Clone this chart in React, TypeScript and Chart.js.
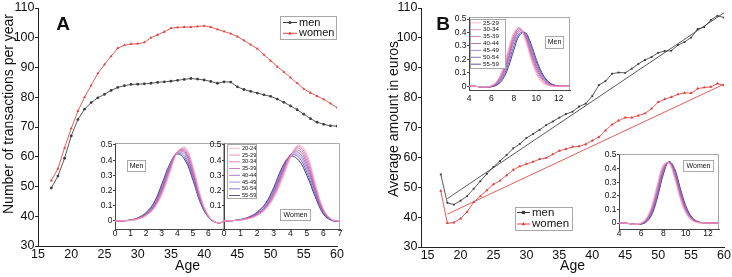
import React, { useEffect, useRef } from "react";
import { Chart, registerables } from "chart.js";
Chart.register(...registerables);

// ---------- main data ----------
const ages = [17, 18, 19, 20, 21, 22, 23, 24, 25, 26, 27, 28, 29, 30, 31, 32, 33, 34, 35, 36, 37, 38, 39, 40, 41, 42, 43, 44, 45, 46, 47, 48, 49, 50, 51, 52, 53, 54, 55, 56, 57, 58, 59, 60];
const menTransactions = [49.5, 53.5, 59.5, 67, 72.5, 76, 78.2, 79.8, 81, 82.3, 83.3, 83.9, 84.3, 84.4, 84.5, 84.7, 85, 85.2, 85.4, 85.7, 86, 86.3, 86.1, 85.8, 85.3, 84.7, 85.2, 85.1, 83.5, 82.6, 82, 81.4, 80.8, 80.3, 79.4, 78.3, 77.1, 75.8, 74.3, 72.8, 71.6, 70.9, 70.4, 70.3];
const womenTransactions = [52, 56, 63, 69.5, 75.3, 80, 84, 88, 91, 93.8, 96.5, 97.5, 97.9, 98, 98.4, 100, 101, 102, 103.2, 103.5, 103.6, 103.6, 103.8, 104, 103.6, 102.8, 102.1, 101.4, 100.4, 99.1, 97.7, 96.3, 94.3, 92.3, 90.3, 88.5, 86.6, 84.7, 82.8, 81.5, 80.4, 79.3, 77.9, 76.5];
const menAmount = [54.3, 44.8, 44.2, 45.5, 47, 49.5, 52, 54.5, 56.8, 58.8, 60.8, 63, 64.5, 66.5, 67.8, 69.2, 70.8, 72, 73.3, 74.5, 75.3, 77, 78, 80.5, 84.2, 85.5, 88, 88.4, 88.3, 89.7, 91.3, 92.6, 93.6, 95, 95.6, 95.7, 97.6, 98.6, 100.1, 103, 103.6, 106, 107.4, 106.8];
const womenAmount = [48.8, 38, 38.2, 39.5, 41.8, 45, 47, 49, 51, 52.2, 54, 55.8, 57, 57.8, 58.5, 59.4, 59.8, 61, 62.2, 62.8, 63.5, 63.7, 64.4, 65.6, 66.8, 69, 71, 72.3, 73.3, 73.3, 74, 74.7, 76.3, 78.5, 79.5, 80.2, 81.1, 81.6, 81.5, 83, 83.4, 83.6, 84.7, 84.1];
const fitAges = [18, 60];
const menAmountFit = [46.2, 108.4];
const womenAmountFit = [41, 84.5];

const mainYTicks = [30, 40, 50, 60, 70, 80, 90, 100, 110];
const mainXTicks = [15, 20, 25, 30, 35, 40, 45, 50, 55, 60];

// ---------- inset data ----------
const groupsA = ["20-24", "25-29", "30-34", "35-39", "40-44", "45-49", "50-54", "55-59"];
const groupsB = ["25-29", "30-34", "35-39", "40-44", "45-49", "50-54", "55-59"];
const insetAX = [0, 0.5, 1, 1.5, 2, 2.5, 3, 3.5, 4, 4.5, 5, 5.5, 6, 6.5, 7];
const insetAXTicks = [0, 1, 2, 3, 4, 5, 6, 7];
const insetAYTicks = [0, 0.1, 0.2, 0.3, 0.4, 0.5];
const aMenDensity = [
  [0, 0.001, 0.004, 0.013, 0.035, 0.08, 0.17, 0.31, 0.45, 0.485, 0.36, 0.16, 0.035, -0.01, -0.008],
  [0, 0.001, 0.004, 0.014, 0.037, 0.085, 0.18, 0.32, 0.45, 0.475, 0.35, 0.155, 0.033, -0.01, -0.008],
  [0, 0.001, 0.005, 0.015, 0.04, 0.09, 0.19, 0.33, 0.455, 0.465, 0.335, 0.15, 0.032, -0.01, -0.008],
  [0, 0.001, 0.005, 0.016, 0.042, 0.095, 0.2, 0.34, 0.455, 0.455, 0.32, 0.14, 0.03, -0.01, -0.008],
  [0, 0.001, 0.005, 0.017, 0.045, 0.1, 0.21, 0.35, 0.455, 0.445, 0.305, 0.135, 0.03, -0.01, -0.008],
  [0, 0.001, 0.006, 0.018, 0.048, 0.105, 0.22, 0.36, 0.45, 0.43, 0.29, 0.125, 0.028, -0.01, -0.008],
  [0, 0.001, 0.006, 0.02, 0.052, 0.115, 0.23, 0.365, 0.445, 0.415, 0.28, 0.12, 0.027, -0.01, -0.008],
  [0, 0.001, 0.007, 0.022, 0.056, 0.12, 0.24, 0.37, 0.44, 0.4, 0.27, 0.115, 0.025, -0.01, -0.008],
];
const aWomenDensity = [
  [0, 0.002, 0.006, 0.015, 0.035, 0.075, 0.15, 0.27, 0.41, 0.5, 0.44, 0.25, 0.08, 0.01, 0],
  [0, 0.002, 0.006, 0.016, 0.038, 0.08, 0.16, 0.285, 0.42, 0.49, 0.42, 0.235, 0.075, 0.01, 0],
  [0, 0.002, 0.007, 0.018, 0.04, 0.085, 0.17, 0.3, 0.43, 0.48, 0.4, 0.22, 0.07, 0.008, 0],
  [0, 0.002, 0.007, 0.019, 0.043, 0.09, 0.18, 0.31, 0.435, 0.465, 0.38, 0.21, 0.065, 0.008, 0],
  [0, 0.002, 0.008, 0.02, 0.046, 0.095, 0.19, 0.32, 0.435, 0.45, 0.36, 0.2, 0.06, 0.006, 0],
  [0, 0.002, 0.008, 0.022, 0.05, 0.1, 0.2, 0.33, 0.43, 0.435, 0.34, 0.19, 0.055, 0.005, 0],
  [0, 0.002, 0.009, 0.024, 0.054, 0.11, 0.21, 0.34, 0.43, 0.42, 0.32, 0.175, 0.05, 0.004, 0],
  [0, 0.002, 0.01, 0.026, 0.058, 0.115, 0.22, 0.35, 0.425, 0.4, 0.3, 0.16, 0.045, 0.003, 0],
];
const insetBX = [4, 4.5, 5, 5.5, 6, 6.5, 7, 7.5, 8, 8.5, 9, 9.5, 10, 10.5, 11, 11.5, 12, 12.5, 13];
const insetBXTicks = [4, 6, 8, 10, 12];
const insetBYTicks = [0, 0.1, 0.2, 0.3, 0.4, 0.5];
const bMenDensity = [
  [0, 0, -0.004, -0.006, 0.005, 0.04, 0.13, 0.27, 0.4, 0.435, 0.35, 0.21, 0.095, 0.03, 0.007, 0, 0, 0, 0],
  [0, 0, -0.004, -0.006, 0.003, 0.034, 0.117, 0.25, 0.385, 0.435, 0.36, 0.228, 0.112, 0.042, 0.012, 0.002, 0, 0, 0],
  [0, 0, -0.004, -0.006, 0.001, 0.028, 0.103, 0.23, 0.37, 0.43, 0.37, 0.245, 0.128, 0.054, 0.017, 0.004, 0, 0, 0],
  [0, 0, -0.005, -0.007, 0, 0.023, 0.09, 0.21, 0.35, 0.42, 0.38, 0.262, 0.145, 0.065, 0.023, 0.006, 0.001, 0, 0],
  [0, 0, -0.005, -0.007, -0.001, 0.018, 0.077, 0.19, 0.33, 0.41, 0.388, 0.28, 0.162, 0.077, 0.029, 0.008, 0.001, 0, 0],
  [0, 0, -0.005, -0.008, -0.003, 0.014, 0.063, 0.165, 0.3, 0.395, 0.395, 0.3, 0.18, 0.088, 0.034, 0.01, 0.002, 0, 0],
  [0, 0, -0.005, -0.008, -0.004, 0.01, 0.05, 0.14, 0.27, 0.38, 0.4, 0.32, 0.2, 0.1, 0.04, 0.012, 0.002, 0, 0],
];
const bWomenDensity = [
  [0, 0, -0.006, -0.01, 0, 0.04, 0.14, 0.3, 0.43, 0.44, 0.33, 0.18, 0.075, 0.022, 0.004, 0, 0, 0, 0],
  [0, 0, -0.006, -0.01, -0.001, 0.035, 0.128, 0.283, 0.42, 0.443, 0.342, 0.193, 0.084, 0.027, 0.006, 0.001, 0, 0, 0],
  [0, 0, -0.006, -0.01, -0.003, 0.03, 0.116, 0.267, 0.408, 0.445, 0.353, 0.207, 0.093, 0.032, 0.008, 0.001, 0, 0, 0],
  [0, 0, -0.005, -0.01, -0.004, 0.025, 0.105, 0.25, 0.396, 0.447, 0.365, 0.22, 0.102, 0.037, 0.009, 0.002, 0, 0, 0],
  [0, 0, -0.005, -0.01, -0.005, 0.02, 0.093, 0.233, 0.384, 0.448, 0.376, 0.233, 0.111, 0.041, 0.011, 0.002, 0, 0, 0],
  [0, 0, -0.005, -0.01, -0.007, 0.015, 0.081, 0.217, 0.372, 0.449, 0.388, 0.246, 0.12, 0.045, 0.012, 0.003, 0, 0, 0],
  [0, 0, -0.005, -0.01, -0.008, 0.01, 0.07, 0.2, 0.36, 0.45, 0.4, 0.26, 0.13, 0.05, 0.014, 0.003, 0, 0, 0],
];

// ---------- styles ----------
const FONT = "'Liberation Sans', Arial, Helvetica, sans-serif";
const MEN = "#3c3c3c";
const WOMEN = "#e0403c";
const AXIS = "#222222";
const FRAME = "#a8a8a8";
const paletteA = ["#f5a3c7", "#e37aa6", "#cf6aa8", "#b45aa8", "#9a58c0", "#8a7ad8", "#6a5ab8", "#2e2366"];
const paletteB = ["#f5a3c7", "#e37aa6", "#c962a8", "#a552aa", "#8a6ad0", "#6a4fb0", "#3a2a70"];

type Marker = "circle" | "triangle" | "rect" | null;
type TextItem = { text: string; x: number; y: number; font: string; align?: CanvasTextAlign; rotate?: number; color?: string };
type BoxItem = { x: number; y: number; w: number; h: number };
type LegendSpec = {
  rows: { label: string; color: string; marker: Marker }[];
  box: BoxItem;
  x0: number; x1: number; textX: number; y: number; dy: number; font: string; r: number; lw: number;
};
type Decor = { texts?: TextItem[]; boxes?: BoxItem[]; legend?: LegendSpec };

function drawMarker(ctx: CanvasRenderingContext2D, m: Marker, x: number, y: number, r: number, color: string) {
  if (!m) return;
  ctx.fillStyle = color;
  ctx.beginPath();
  if (m === "circle") ctx.arc(x, y, r, 0, Math.PI * 2);
  else if (m === "rect") ctx.rect(x - r, y - r, 2 * r, 2 * r);
  else { ctx.moveTo(x, y - r * 1.2); ctx.lineTo(x + r * 1.1, y + r * 0.8); ctx.lineTo(x - r * 1.1, y + r * 0.8); ctx.closePath(); }
  ctx.fill();
}

function decorPlugin(ox: number, oy: number, d: Decor) {
  return {
    id: "decor",
    beforeDatasetsDraw(chart: any) {
      const a = chart.chartArea;
      const ctx = chart.ctx as CanvasRenderingContext2D;
      if (!(d as any).frame) return;
      ctx.save();
      ctx.strokeStyle = FRAME;
      ctx.lineWidth = 1;
      ctx.beginPath();
      ctx.moveTo(Math.round(a.left) + 0.5, Math.round(a.top) + 0.5);
      ctx.lineTo(Math.round(a.right) - 0.5, Math.round(a.top) + 0.5);
      ctx.lineTo(Math.round(a.right) - 0.5, Math.round(a.bottom));
      ctx.stroke();
      ctx.restore();
    },
    afterDraw(chart: any) {
      const ctx = chart.ctx as CanvasRenderingContext2D;
      ctx.save();
      ctx.translate(-ox, -oy);
      const strokeBox = (b: BoxItem) => {
        ctx.fillStyle = "#ffffff";
        ctx.fillRect(b.x, b.y, b.w, b.h);
        ctx.strokeStyle = FRAME;
        ctx.lineWidth = 1;
        ctx.strokeRect(Math.round(b.x) + 0.5, Math.round(b.y) + 0.5, Math.round(b.w), Math.round(b.h));
      };
      (d.boxes || []).forEach(strokeBox);
      if (d.legend) {
        const L = d.legend;
        strokeBox(L.box);
        L.rows.forEach((row, i) => {
          const y = L.y + i * L.dy;
          ctx.strokeStyle = row.color;
          ctx.lineWidth = L.lw;
          ctx.beginPath();
          ctx.moveTo(L.x0, y);
          ctx.lineTo(L.x1, y);
          ctx.stroke();
          drawMarker(ctx, row.marker, (L.x0 + L.x1) / 2, y, L.r, row.color);
          ctx.fillStyle = "#111";
          ctx.font = L.font;
          ctx.textAlign = "left";
          ctx.textBaseline = "middle";
          ctx.fillText(row.label, L.textX, y);
        });
      }
      (d.texts || []).forEach((t) => {
        ctx.save();
        ctx.translate(t.x, t.y);
        if (t.rotate) ctx.rotate(t.rotate);
        ctx.font = t.font;
        ctx.fillStyle = t.color || "#111";
        ctx.textAlign = t.align || "center";
        ctx.textBaseline = "middle";
        ctx.fillText(t.text, 0, 0);
        ctx.restore();
      });
      ctx.restore();
    },
  };
}

type Geo = { left: number; top: number; width: number; height: number; yW: number; xH: number; padT: number; padR: number };

function ticksFrom(values: number[]) {
  return (s: any) => { s.ticks = values.map((v) => ({ value: v })); };
}

function mainConfig(geo: Geo, datasets: any[], xMin: number, decor: Decor) {
  return {
    type: "line",
    data: { datasets },
    options: {
      responsive: false,
      animation: false,
      layout: { padding: { top: geo.padT, right: geo.padR, left: 0, bottom: 0 } },
      plugins: { legend: { display: false }, tooltip: { enabled: false } },
      scales: {
        x: {
          type: "linear", min: xMin, max: 60,
          afterBuildTicks: ticksFrom(mainXTicks),
          afterFit: (s: any) => { s.height = geo.xH; },
          grid: { drawOnChartArea: false, drawTicks: false },
          border: { color: AXIS, width: 1 },
          ticks: { autoSkip: false, maxRotation: 0, padding: 1, color: "#111", font: { family: FONT, size: 12.5 }, callback: (v: any) => String(v) },
          title: { display: true, text: "Age", color: "#111", font: { family: FONT, size: 14 }, padding: { top: 0, bottom: 2.6 } },
        },
        y: {
          type: "linear", min: 30, max: 110,
          afterBuildTicks: ticksFrom(mainYTicks),
          afterFit: (s: any) => { s.width = geo.yW; },
          grid: { drawOnChartArea: false, drawTicks: true, tickLength: 3, color: AXIS },
          border: { color: AXIS, width: 1 },
          ticks: { autoSkip: false, padding: 0.5, color: "#111", font: { family: FONT, size: 12.5 }, callback: (v: any) => String(v) },
        },
      },
    },
    plugins: [decorPlugin(geo.left, geo.top, decor)],
  };
}

function insetConfig(geo: Geo, xs: number[], curves: number[][], colors: string[], xr: [number, number], xTicks: number[], yr: [number, number], yTicks: number[], xPad: number, decor: Decor) {
  return {
    type: "line",
    data: {
      datasets: curves.map((c, i) => ({
        data: xs.map((x, j) => ({ x, y: c[j] })),
        borderColor: colors[i],
        borderWidth: 0.9,
        pointRadius: 0,
        tension: 0.4,
        fill: false,
      })),
    },
    options: {
      responsive: false,
      animation: false,
      layout: { padding: { top: geo.padT, right: geo.padR, left: 0, bottom: 0 } },
      plugins: { legend: { display: false }, tooltip: { enabled: false } },
      scales: {
        x: {
          type: "linear", min: xr[0], max: xr[1],
          afterBuildTicks: ticksFrom(xTicks),
          afterFit: (s: any) => { s.height = geo.xH; },
          grid: { drawOnChartArea: false, drawTicks: false },
          border: { color: "#444", width: 1 },
          ticks: { autoSkip: false, maxRotation: 0, padding: xPad, color: "#111", font: { family: FONT, size: 8.5 }, callback: (v: any) => String(v) },
        },
        y: {
          type: "linear", min: yr[0], max: yr[1],
          afterBuildTicks: ticksFrom(yTicks),
          afterFit: (s: any) => { s.width = geo.yW; },
          grid: { drawOnChartArea: false, drawTicks: true, tickLength: 2, color: "#444" },
          border: { color: "#444", width: 1 },
          ticks: { autoSkip: false, padding: 0.5, color: "#111", font: { family: FONT, size: 8.5 }, callback: (v: any) => String(v) },
        },
      },
    },
    plugins: [decorPlugin(geo.left, geo.top, { ...decor, frame: true } as any)],
  };
}

function ChartBox({ geo, make }: { geo: Geo; make: () => any }) {
  const ref = useRef<HTMLCanvasElement>(null);
  useEffect(() => {
    const chart = new Chart(ref.current as HTMLCanvasElement, make());
    return () => chart.destroy();
  }, []);
  return (
    <canvas
      ref={ref}
      width={geo.width}
      height={geo.height}
      style={{ position: "absolute", left: geo.left, top: geo.top, width: geo.width, height: geo.height }}
    />
  );
}

const pts = (xs: number[], ys: number[]) => xs.map((x, i) => ({ x, y: ys[i] }));

// ---------- geometry ----------
const geoA: Geo = { left: 0, top: 0, width: 345, height: 277, yW: 38, xH: 31, padT: 7, padR: 7 };
const geoB: Geo = { left: 360, top: 0, width: 372, height: 277, yW: 61, xH: 30, padT: 7, padR: 8 };
const geoAL: Geo = { left: 93, top: 137, width: 133, height: 103, yW: 22, xH: 11, padT: 6, padR: 2 };
const geoAR: Geo = { left: 202, top: 137, width: 144, height: 103, yW: 22, xH: 11, padT: 6, padR: 6 };
const geoBM: Geo = { left: 447, top: 10, width: 128, height: 95, yW: 22, xH: 15, padT: 7, padR: 5 };
const geoBW: Geo = { left: 597, top: 147, width: 127, height: 95, yW: 22, xH: 13, padT: 7, padR: 5 };

export default function App() {
  const ds = (label: string, xs: number[], ys: number[], color: string, marker: string, r: number) => ({
    label, data: pts(xs, ys), borderColor: color, backgroundColor: color, borderWidth: 0.85,
    pointStyle: marker, pointRadius: r, pointBorderWidth: 0, tension: 0,
  });
  const fit = (label: string, ys: number[], color: string) => ({
    label, data: pts(fitAges, ys), borderColor: color, borderWidth: 0.85, pointRadius: 0, tension: 0,
  });

  return (
    <div style={{ position: "absolute", left: 0, top: 0, width: 732, height: 277, background: "#fff", overflow: "hidden" }}>
      <ChartBox
        geo={geoA}
        make={() =>
          mainConfig(geoA, [ds("men", ages, menTransactions, MEN, "circle", 1.4), ds("women", ages, womenTransactions, WOMEN, "triangle", 1.7)], 15, {
            texts: [
              { text: "Number of transactions per year", x: 9, y: 114, font: `14px ${FONT}`, rotate: -Math.PI / 2 },
              { text: "A", x: 63, y: 25, font: `bold 19px ${FONT}` },
            ],
            legend: {
              rows: [{ label: "men", color: MEN, marker: "circle" }, { label: "women", color: WOMEN, marker: "triangle" }],
              box: { x: 280, y: 16, w: 56, h: 23 },
              x0: 283, x1: 297, textX: 299, y: 22.5, dy: 10.8, font: `11px ${FONT}`, r: 1.6, lw: 1,
            },
          })
        }
      />
      <ChartBox
        geo={geoB}
        make={() =>
          mainConfig(geoB, [
            ds("men", ages, menAmount, MEN, "rect", 1.3),
            ds("women", ages, womenAmount, WOMEN, "triangle", 1.8),
            fit("men fit", menAmountFit, MEN),
            fit("women fit", womenAmountFit, WOMEN),
          ], 14, {
            texts: [
              { text: "Average amount in euros", x: 394, y: 119, font: `14px ${FONT}`, rotate: -Math.PI / 2 },
              { text: "B", x: 443, y: 25, font: `bold 19px ${FONT}` },
            ],
            legend: {
              rows: [{ label: "men", color: MEN, marker: "rect" }, { label: "women", color: WOMEN, marker: "triangle" }],
              box: { x: 515, y: 207, w: 57, h: 23 },
              x0: 517, x1: 530, textX: 532, y: 212.5, dy: 11.5, font: `11.5px ${FONT}`, r: 1.6, lw: 1,
            },
          })
        }
      />
      <ChartBox
        geo={geoAL}
        make={() =>
          insetConfig(geoAL, insetAX, aMenDensity, paletteA, [0, 7], insetAXTicks.slice(0, 7), [-0.053, 0.513], insetAYTicks, 0, {
            boxes: [{ x: 127, y: 160, w: 18, h: 11 }],
            texts: [{ text: "Men", x: 136.5, y: 166, font: `7px ${FONT}` }],
          })
        }
      />
      <ChartBox
        geo={geoAR}
        make={() =>
          insetConfig(geoAR, insetAX, aWomenDensity, paletteA, [0, 7], insetAXTicks, [-0.053, 0.513], insetAYTicks.slice(1), 0, {
            boxes: [{ x: 280, y: 209, w: 30, h: 11 }],
            texts: [{ text: "Women", x: 295.5, y: 215, font: `7px ${FONT}` }],
            legend: {
              rows: groupsA.map((g, i) => ({ label: g, color: paletteA[i], marker: null })),
              box: { x: 227, y: 144, w: 29, h: 54 },
              x0: 229, x1: 240, textX: 242, y: 148.3, dy: 6.75, font: `5.6px ${FONT}`, r: 0, lw: 0.8,
            },
          })
        }
      />
      <ChartBox
        geo={geoBM}
        make={() =>
          insetConfig(geoBM, insetBX, bMenDensity, paletteB, [4, 13], insetBXTicks, [-0.028, 0.515], insetBYTicks, 4, {
            boxes: [{ x: 545, y: 36, w: 18, h: 12 }],
            texts: [{ text: "Men", x: 554.5, y: 42.5, font: `7px ${FONT}` }],
            legend: {
              rows: groupsB.map((g, i) => ({ label: g, color: paletteB[i], marker: null })),
              box: { x: 470, y: 19, w: 35, h: 49 },
              x0: 471, x1: 481, textX: 483, y: 22.8, dy: 6.9, font: `6.2px ${FONT}`, r: 0, lw: 0.8,
            },
          })
        }
      />
      <ChartBox
        geo={geoBW}
        make={() =>
          insetConfig(geoBW, insetBX, bWomenDensity, paletteB, [4, 13], insetBXTicks, [-0.044, 0.507], insetBYTicks, 0, {
            boxes: [{ x: 683, y: 160, w: 30, h: 11 }],
            texts: [{ text: "Women", x: 698.5, y: 166, font: `7px ${FONT}` }],
          })
        }
      />
    </div>
  );
}
